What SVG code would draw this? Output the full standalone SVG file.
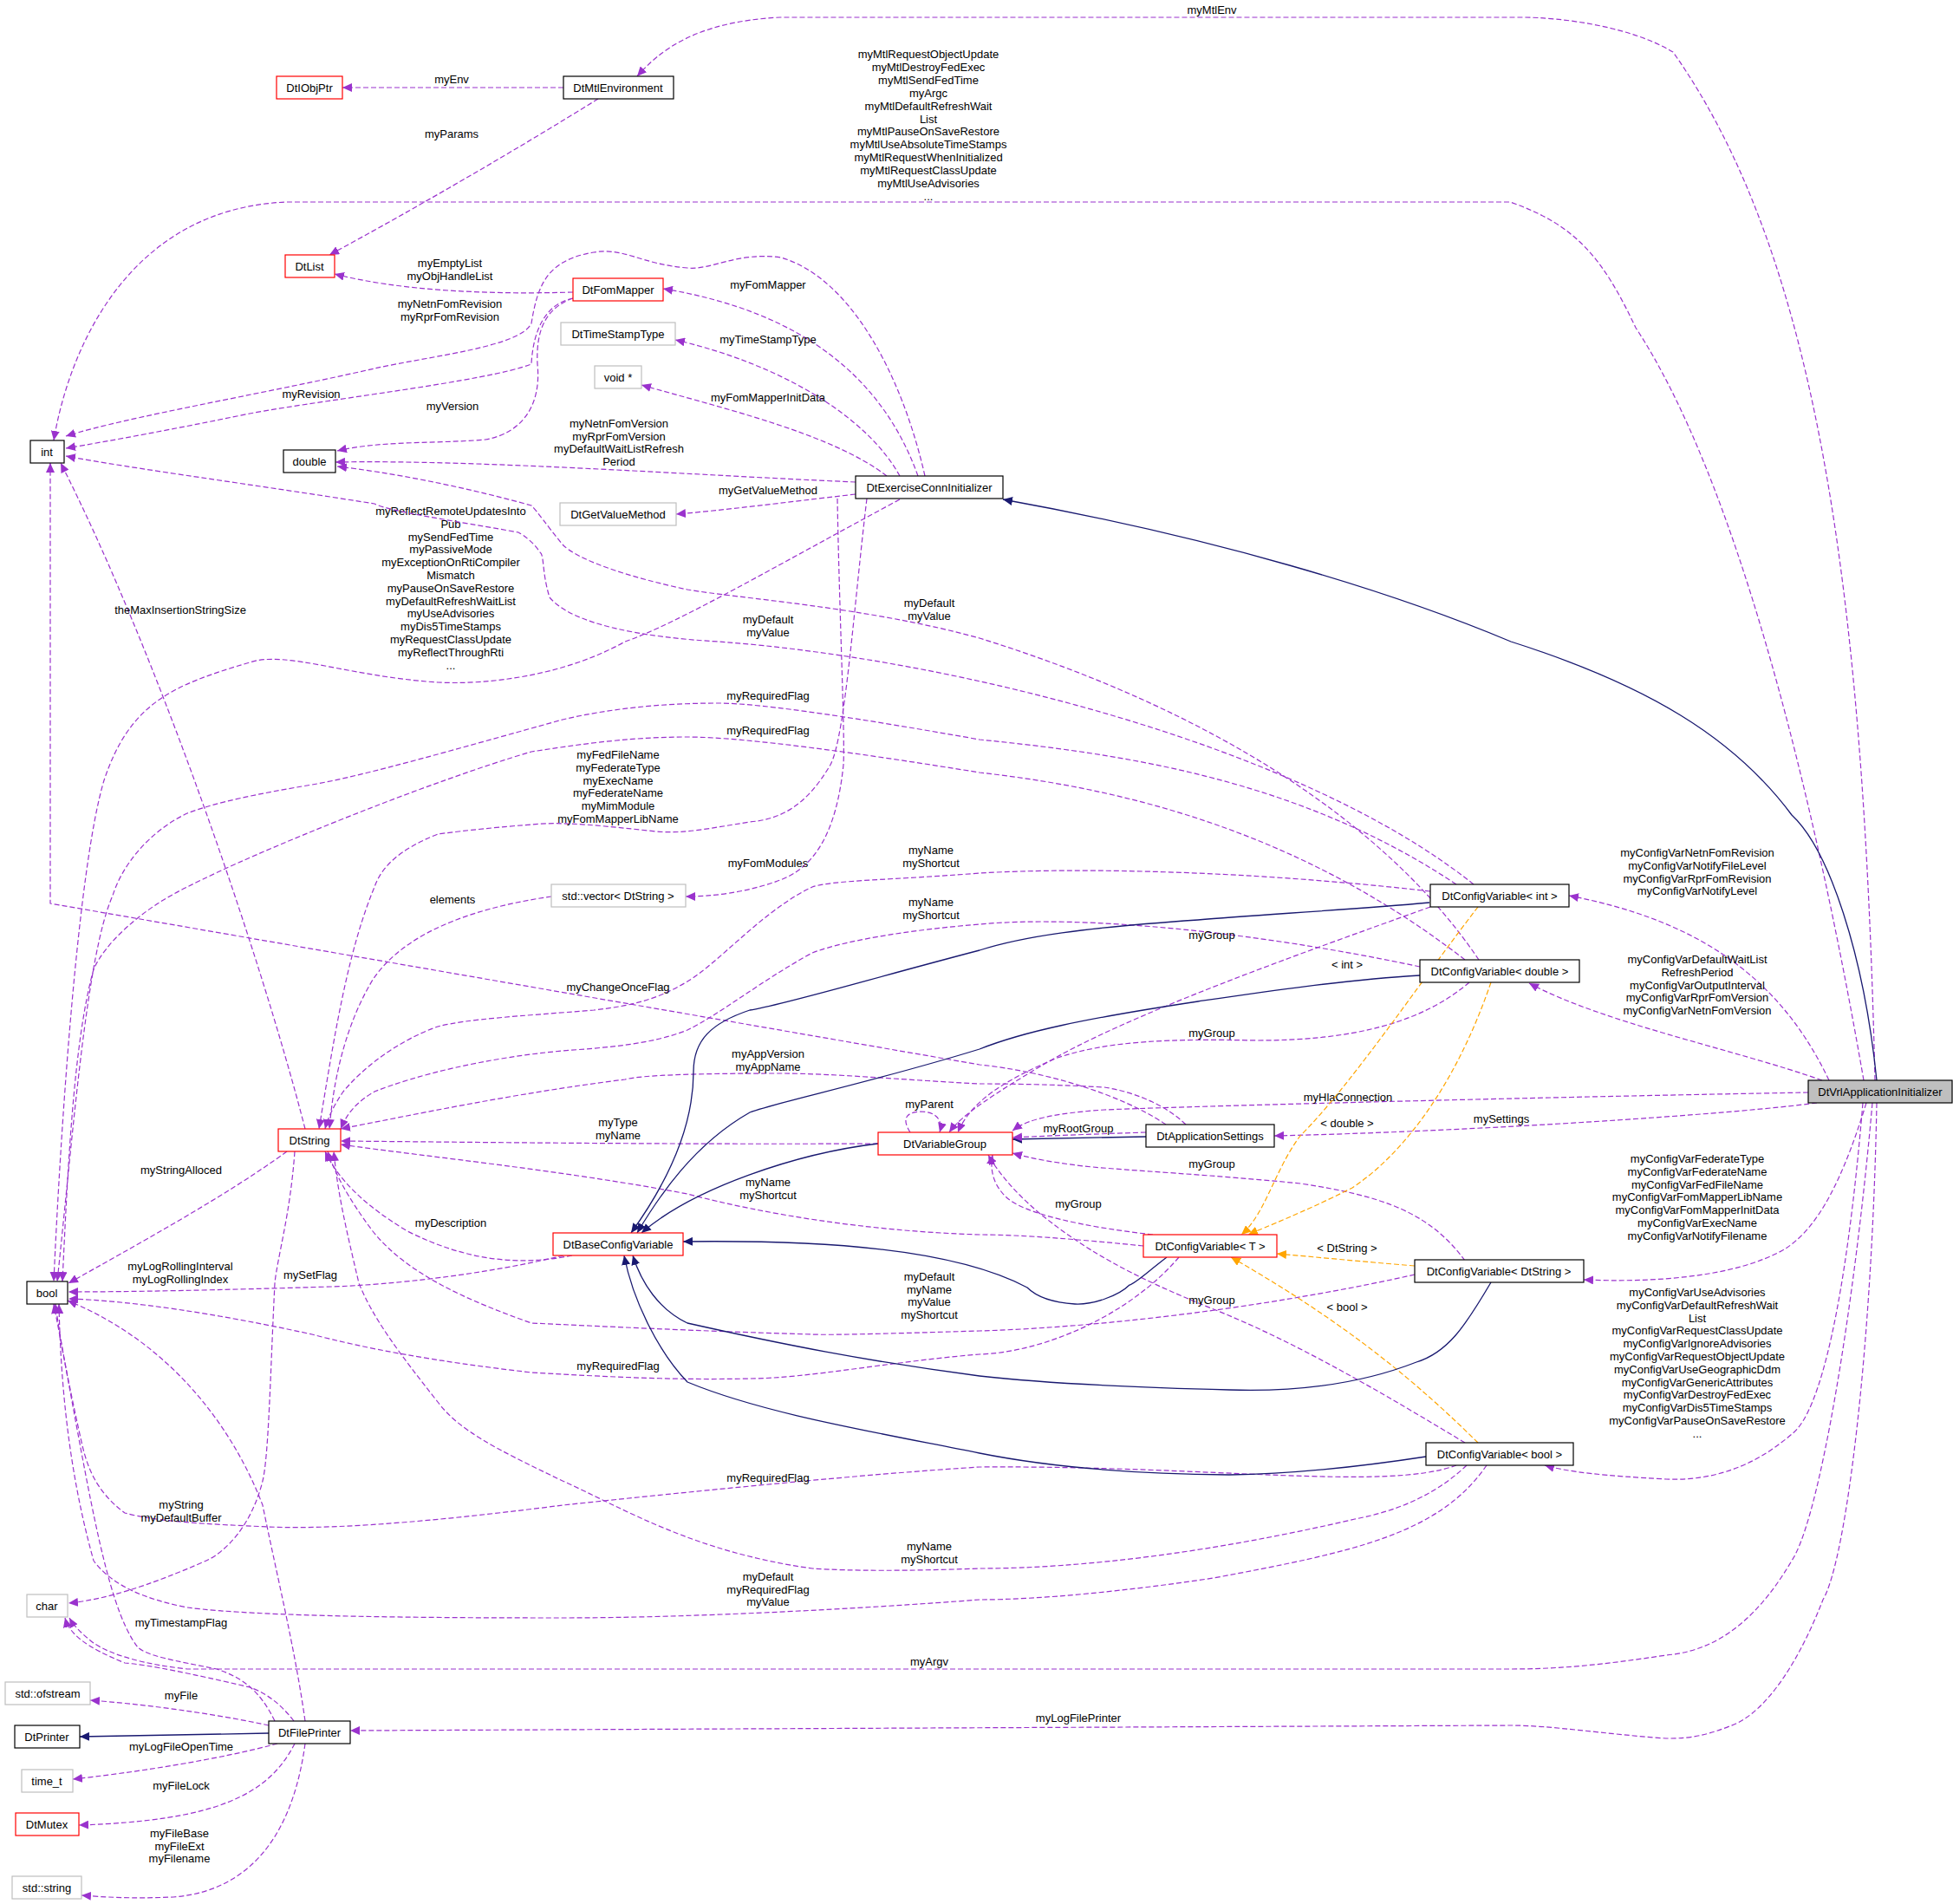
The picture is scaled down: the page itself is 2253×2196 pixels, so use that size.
<svg xmlns="http://www.w3.org/2000/svg" width="2253" height="2196" viewBox="0 0 2253 2196">
<style>
text{font-family:"Liberation Sans",Arial,sans-serif;font-size:13px;fill:#000}
.nt{text-anchor:middle}
.l{text-anchor:middle}
.b{fill:#fff;stroke:#000;stroke-width:1.2}
.r{fill:#fff;stroke:#ff0000;stroke-width:1.2}
.g{fill:#fff;stroke:#bfbfbf;stroke-width:1.2}
.e{fill:none;stroke:#9a32cd;stroke-width:1.2;stroke-dasharray:6,3;marker-end:url(#ap);stroke-linejoin:round}
.n{fill:none;stroke:#191970;stroke-width:1.3;marker-end:url(#an);stroke-linejoin:round}
.o{fill:none;stroke:#ffa500;stroke-width:1.2;stroke-dasharray:6,3;marker-end:url(#ao);stroke-linejoin:round}
</style>
<defs>
<marker id="ap" markerUnits="userSpaceOnUse" markerWidth="12" markerHeight="10" refX="11" refY="5" orient="auto"><path d="M0,0L11,5L0,10z" fill="#9a32cd"/></marker>
<marker id="an" markerUnits="userSpaceOnUse" markerWidth="12" markerHeight="10" refX="11" refY="5" orient="auto"><path d="M0,0L11,5L0,10z" fill="#191970"/></marker>
<marker id="ao" markerUnits="userSpaceOnUse" markerWidth="12" markerHeight="10" refX="11" refY="5" orient="auto"><path d="M0,0L11,5L0,10z" fill="#ffa500"/></marker>
</defs>
<rect width="2253" height="2196" fill="#fff"/>
<g id="connectors">
<path class="e" d="M2163,1246 C2150,700 2100,300 1930,60 C1880,30 1800,20 1756,20 L900,20 C800,25 760,60 735,88"/>
<text class="l" x="1398" y="16">myMtlEnv</text>
<path class="e" d="M2150,1246 C2090,900 2000,550 1887,378 C1850,300 1820,260 1742,233 L331,233 C150,240 80,400 62,508"/>
<text class="l" x="1071" y="67"><tspan x="1071">myMtlRequestObjectUpdate</tspan><tspan x="1071" dy="14.9">myMtlDestroyFedExec</tspan><tspan x="1071" dy="14.9">myMtlSendFedTime</tspan><tspan x="1071" dy="14.9">myArgc</tspan><tspan x="1071" dy="14.9">myMtlDefaultRefreshWait</tspan><tspan x="1071" dy="14.9">List</tspan><tspan x="1071" dy="14.9">myMtlPauseOnSaveRestore</tspan><tspan x="1071" dy="14.9">myMtlUseAbsoluteTimeStamps</tspan><tspan x="1071" dy="14.9">myMtlRequestWhenInitialized</tspan><tspan x="1071" dy="14.9">myMtlRequestClassUpdate</tspan><tspan x="1071" dy="14.9">myMtlUseAdvisories</tspan><tspan x="1071" dy="14.9">...</tspan></text>
<path class="e" d="M650,101 L395,101"/>
<text class="l" x="521" y="96">myEnv</text>
<path class="e" d="M690,114 C600,170 480,240 380,294"/>
<text class="l" x="521" y="159">myParams</text>
<path class="e" d="M661,337 C560,340 460,335 386,316"/>
<text class="l" x="519" y="308"><tspan x="519">myEmptyList</tspan><tspan x="519" dy="14.8">myObjHandleList</tspan></text>
<path class="e" d="M1067,549 C1040,430 980,320 901,297 C850,290 820,312 793,309 C740,305 720,285 685,291 C630,300 620,330 613,373 C600,400 500,410 432,425 C300,455 150,480 76,503"/>
<text class="l" x="519" y="355"><tspan x="519">myNetnFomRevision</tspan><tspan x="519" dy="14.8">myRprFomRevision</tspan></text>
<path class="e" d="M661,344 C630,350 615,380 613,420 C560,440 380,460 288,477 C200,495 130,508 76,517"/>
<text class="l" x="359" y="459">myRevision</text>
<path class="e" d="M661,344 C630,355 618,380 620,420 C625,470 600,500 560,507 C500,512 440,508 389,520"/>
<text class="l" x="522" y="473">myVersion</text>
<path class="e" d="M1059,549 C1020,440 930,360 765,333"/>
<text class="l" x="886" y="333">myFomMapper</text>
<path class="e" d="M1038,549 C1000,480 900,420 779,392"/>
<text class="l" x="886" y="396">myTimeStampType</text>
<path class="e" d="M1023,549 C960,500 830,470 740,444"/>
<text class="l" x="886" y="463">myFomMapperInitData</text>
<path class="e" d="M987,556 C800,548 550,530 387,533"/>
<text class="l" x="714" y="493"><tspan x="714">myNetnFomVersion</tspan><tspan x="714" dy="14.6">myRprFomVersion</tspan><tspan x="714" dy="14.6">myDefaultWaitListRefresh</tspan><tspan x="714" dy="14.6">Period</tspan></text>
<path class="e" d="M987,570 C900,580 840,588 780,593"/>
<text class="l" x="886" y="570">myGetValueMethod</text>
<path class="e" d="M1038,576 C900,650 780,720 721,740 C650,780 560,790 505,787 C400,780 330,750 288,764 C200,790 150,810 120,900 C90,1000 70,1300 62,1478"/>
<text class="l" x="520" y="594"><tspan x="520">myReflectRemoteUpdatesInto</tspan><tspan x="520" dy="14.8">Pub</tspan><tspan x="520" dy="14.8">mySendFedTime</tspan><tspan x="520" dy="14.8">myPassiveMode</tspan><tspan x="520" dy="14.8">myExceptionOnRtiCompiler</tspan><tspan x="520" dy="14.8">Mismatch</tspan><tspan x="520" dy="14.8">myPauseOnSaveRestore</tspan><tspan x="520" dy="14.8">myDefaultRefreshWaitList</tspan><tspan x="520" dy="14.8">myUseAdvisories</tspan><tspan x="520" dy="14.8">myDis5TimeStamps</tspan><tspan x="520" dy="14.8">myRequestClassUpdate</tspan><tspan x="520" dy="14.8">myReflectThroughRti</tspan><tspan x="520" dy="14.8">...</tspan></text>
<path class="e" d="M966,575 C968,700 975,850 973,882 C965,960 940,1000 900,1015 C860,1030 820,1034 791,1034"/>
<text class="l" x="886" y="1000">myFomModules</text>
<path class="e" d="M1000,575 C985,700 975,850 958,882 C930,930 900,945 865,948 C820,955 790,962 757,959 C700,953 650,947 613,951 C560,955 520,960 505,962 C460,980 440,1000 432,1023 C400,1100 385,1200 368,1302"/>
<text class="l" x="713" y="875"><tspan x="713">myFedFileName</tspan><tspan x="713" dy="14.8">myFederateType</tspan><tspan x="713" dy="14.8">myExecName</tspan><tspan x="713" dy="14.8">myFederateName</tspan><tspan x="713" dy="14.8">myMimModule</tspan><tspan x="713" dy="14.8">myFomMapperLibName</tspan></text>
<path class="e" d="M1706,1107 C1600,950 1400,820 1130,736 C1000,700 850,690 793,680 C700,660 660,640 649,628 C630,605 620,590 613,583 C530,560 450,545 389,538"/>
<text class="l" x="886" y="719"><tspan x="886">myDefault</tspan><tspan x="886" dy="14.6">myValue</tspan></text>
<path class="e" d="M1700,1020 C1500,860 1100,760 829,740 C740,735 660,720 634,689 C625,660 628,640 623,637 C615,625 605,618 598,614 C520,600 450,590 432,581 C300,560 150,540 76,526"/>
<text class="l" x="1072" y="700"><tspan x="1072">myDefault</tspan><tspan x="1072" dy="14.6">myValue</tspan></text>
<path class="e" d="M1680,1020 C1500,900 1300,870 1130,853 C1000,830 880,811 829,811 C760,811 700,818 649,830 C540,860 420,895 360,905 C300,915 250,925 216,938 C170,960 140,1000 130,1033 C100,1100 85,1300 66,1478"/>
<text class="l" x="886" y="807">myRequiredFlag</text>
<path class="e" d="M1690,1107 C1500,960 1300,910 1130,891 C1000,870 860,850 793,850 C720,850 660,860 613,867 C500,900 300,980 216,1023 C160,1050 120,1090 108,1118 C85,1200 78,1350 72,1478"/>
<text class="l" x="886" y="847">myRequiredFlag</text>
<path class="e" d="M1650,1028 C1450,1005 1250,1000 1130,1007 C1030,1015 960,1015 937,1023 C880,1050 830,1110 793,1132 C760,1152 730,1160 685,1165 C600,1172 540,1175 505,1184 C460,1200 420,1230 396,1259 C385,1275 378,1290 375,1302"/>
<text class="l" x="1074" y="985"><tspan x="1074">myName</tspan><tspan x="1074" dy="14.6">myShortcut</tspan></text>
<path class="e" d="M1638,1115 C1450,1075 1250,1055 1130,1066 C1020,1075 960,1090 937,1099 C880,1130 830,1170 793,1188 C750,1205 700,1208 649,1212 C560,1220 480,1240 432,1259 C410,1272 400,1285 393,1302"/>
<text class="l" x="1074" y="1045"><tspan x="1074">myName</tspan><tspan x="1074" dy="14.6">myShortcut</tspan></text>
<path class="e" d="M1345,1297 C1290,1260 1200,1235 1130,1228 L58,1042 L58,534"/>
<text class="l" x="713" y="1143">myChangeOnceFlag</text>
<path class="e" d="M1368,1297 C1340,1270 1300,1258 1274,1254 C1200,1250 1150,1250 1130,1250 C1050,1246 960,1238 901,1238 C800,1238 740,1240 721,1245 C600,1260 480,1285 393,1302"/>
<text class="l" x="886" y="1220"><tspan x="886">myAppVersion</tspan><tspan x="886" dy="14.6">myAppName</tspan></text>
<path class="e" d="M1013,1319 C800,1320 600,1318 393,1316"/>
<text class="l" x="713" y="1299"><tspan x="713">myType</tspan><tspan x="713" dy="14.6">myName</tspan></text>
<path class="e" d="M1050,1306 C1040,1290 1045,1283 1062,1282 C1080,1282 1088,1292 1084,1306"/>
<text class="l" x="1072" y="1278">myParent</text>
<path class="e" d="M660,1448 C600,1460 540,1455 470,1420 C420,1390 390,1360 375,1328"/>
<text class="l" x="520" y="1415">myDescription</text>
<path class="e" d="M331,1328 C260,1380 150,1440 79,1480"/>
<text class="l" x="209" y="1354">myStringAlloced</text>
<path class="e" d="M650,1448 C560,1470 450,1482 382,1484 C250,1488 150,1490 79,1490"/>
<text class="l" x="358" y="1475">mySetFlag</text>
<path class="e" d="M1360,1450 C1300,1520 1200,1560 1130,1562 C1030,1570 930,1590 865,1590 C780,1592 700,1588 613,1583 C500,1570 420,1555 360,1539 C250,1515 150,1500 79,1498"/>
<text class="l" x="713" y="1580">myRequiredFlag</text>
<path class="e" d="M1632,1470 C1500,1500 1300,1530 1130,1535 C1030,1538 960,1540 937,1539 C800,1535 700,1530 613,1526 C540,1500 470,1470 430,1420 C400,1380 385,1350 378,1328"/>
<text class="l" x="1072" y="1477"><tspan x="1072">myDefault</tspan><tspan x="1072" dy="14.6">myName</tspan><tspan x="1072" dy="14.6">myValue</tspan><tspan x="1072" dy="14.6">myShortcut</tspan></text>
<path class="e" d="M1680,1690 C1600,1720 1400,1690 1130,1692 C1000,1700 800,1720 649,1736 C540,1750 400,1765 310,1761 C240,1758 180,1755 144,1745 C110,1720 100,1690 94,1663 C80,1600 70,1550 64,1504"/>
<text class="l" x="886" y="1709">myRequiredFlag</text>
<path class="e" d="M1715,1690 C1660,1770 1560,1790 1400,1820 C1300,1835 1200,1845 1130,1845 C1000,1855 800,1866 649,1866 C500,1866 300,1865 216,1854 C170,1845 130,1830 108,1800 C80,1700 70,1600 68,1504"/>
<text class="l" x="886" y="1823"><tspan x="886">myDefault</tspan><tspan x="886" dy="14.6">myRequiredFlag</tspan><tspan x="886" dy="14.6">myValue</tspan></text>
<path class="e" d="M1692,1690 C1650,1730 1600,1745 1563,1752 C1400,1790 1250,1809 1130,1809 C1050,1812 980,1812 937,1809 C800,1790 720,1740 649,1708 C570,1670 530,1650 505,1617 C460,1560 430,1520 414,1480 C400,1420 390,1380 385,1328"/>
<text class="l" x="1072" y="1788"><tspan x="1072">myName</tspan><tspan x="1072" dy="14.6">myShortcut</tspan></text>
<path class="e" d="M1319,1437 C1250,1430 1180,1424 1130,1424 C1000,1420 880,1400 793,1377 C650,1350 500,1335 393,1320"/>
<text class="l" x="886" y="1368"><tspan x="886">myName</tspan><tspan x="886" dy="14.6">myShortcut</tspan></text>
<path class="e" d="M1330,1424 C1250,1415 1180,1400 1160,1380 C1145,1365 1142,1348 1145,1332"/>
<text class="l" x="1244" y="1393">myGroup</text>
<path class="e" d="M1650,1046 C1500,1100 1300,1170 1200,1230 C1150,1260 1110,1285 1095,1306"/>
<text class="l" x="1398" y="1083">myGroup</text>
<path class="e" d="M1695,1133 C1640,1180 1560,1200 1450,1200 C1350,1198 1280,1200 1220,1220 C1160,1245 1120,1270 1105,1306"/>
<text class="l" x="1398" y="1196">myGroup</text>
<path class="e" d="M1690,1454 C1650,1400 1600,1380 1500,1365 C1400,1355 1300,1350 1250,1345 C1210,1340 1190,1336 1168,1330"/>
<text class="l" x="1398" y="1347">myGroup</text>
<path class="e" d="M1690,1664 C1600,1610 1500,1550 1400,1510 C1300,1470 1250,1440 1200,1400 C1170,1375 1150,1350 1140,1332"/>
<text class="l" x="1398" y="1504">myGroup</text>
<path class="e" d="M340,1328 C335,1400 320,1450 317,1480 C312,1580 310,1680 303,1708 C290,1760 260,1790 238,1800 C170,1830 120,1845 79,1849"/>
<text class="l" x="209" y="1740"><tspan x="209">myString</tspan><tspan x="209" dy="14.6">myDefaultBuffer</tspan></text>
<path class="e" d="M352,1302 C300,1100 180,750 70,534"/>
<text class="l" x="208" y="708">theMaxInsertionStringSize</text>
<path class="e" d="M636,1034 C560,1045 470,1070 430,1130 C400,1180 385,1240 380,1302"/>
<text class="l" x="522" y="1042">elements</text>
<path class="e" d="M352,1985 C340,1900 320,1820 303,1736 C270,1650 200,1550 78,1500"/>
<text class="l" x="208" y="1465"><tspan x="208">myLogRollingInterval</tspan><tspan x="208" dy="14.6">myLogRollingIndex</tspan></text>
<path class="e" d="M339,1985 C320,1960 300,1950 288,1946 C220,1930 170,1920 144,1918 C100,1900 80,1885 75,1866"/>
<path class="e" d="M317,1985 C300,1950 280,1935 250,1925 C200,1915 170,1910 159,1900 C120,1850 100,1700 62,1504"/>
<text class="l" x="209" y="1876">myTimestampFlag</text>
<path class="e" d="M2160,1272 C2140,1500 2100,1750 2067,1800 C2020,1880 1970,1905 1922,1909 C1850,1920 1800,1925 1742,1925 L216,1925 C170,1920 130,1910 108,1895 C95,1885 85,1875 80,1866"/>
<text class="l" x="1072" y="1921">myArgv</text>
<path class="e" d="M2165,1272 C2160,1550 2130,1800 2103,1845 C2070,1930 2030,1980 1995,1991 C1960,2005 1940,2005 1922,2005 C1850,2000 1790,1990 1742,1990 L404,1996"/>
<text class="l" x="1244" y="1986">myLogFilePrinter</text>
<path class="e" d="M310,1990 C240,1975 160,1965 104,1961"/>
<text class="l" x="209" y="1960">myFile</text>
<path class="e" d="M320,2011 C250,2030 150,2045 84,2052"/>
<text class="l" x="209" y="2019">myLogFileOpenTime</text>
<path class="e" d="M340,2011 C310,2070 250,2100 91,2105"/>
<text class="l" x="209" y="2064">myFileLock</text>
<path class="e" d="M352,2011 C340,2100 300,2180 200,2188 C150,2190 120,2188 94,2186"/>
<text class="l" x="207" y="2119"><tspan x="207">myFileBase</tspan><tspan x="207" dy="14.6">myFileExt</tspan><tspan x="207" dy="14.6">myFilename</tspan></text>
<path class="n" d="M310,1999 C230,2000 150,2002 92,2003"/>
<path class="e" d="M2110,1246 C2050,1120 1950,1060 1810,1033"/>
<text class="l" x="1958" y="988"><tspan x="1958">myConfigVarNetnFomRevision</tspan><tspan x="1958" dy="14.8">myConfigVarNotifyFileLevel</tspan><tspan x="1958" dy="14.8">myConfigVarRprFomRevision</tspan><tspan x="1958" dy="14.8">myConfigVarNotifyLevel</tspan></text>
<path class="e" d="M2102,1246 C2000,1210 1850,1180 1764,1134"/>
<text class="l" x="1958" y="1111"><tspan x="1958">myConfigVarDefaultWaitList</tspan><tspan x="1958" dy="14.8">RefreshPeriod</tspan><tspan x="1958" dy="14.8">myConfigVarOutputInterval</tspan><tspan x="1958" dy="14.8">myConfigVarRprFomVersion</tspan><tspan x="1958" dy="14.8">myConfigVarNetnFomVersion</tspan></text>
<path class="e" d="M2086,1260 C1800,1265 1400,1275 1274,1280 C1200,1285 1180,1295 1168,1304"/>
<text class="l" x="1555" y="1270">myHlaConnection</text>
<path class="e" d="M2096,1272 C2000,1285 1700,1305 1470,1310"/>
<text class="l" x="1732" y="1295">mySettings</text>
<path class="e" d="M2153,1272 C2120,1380 2090,1420 2060,1440 C2000,1475 1900,1479 1827,1476"/>
<text class="l" x="1958" y="1341"><tspan x="1958">myConfigVarFederateType</tspan><tspan x="1958" dy="14.8">myConfigVarFederateName</tspan><tspan x="1958" dy="14.8">myConfigVarFedFileName</tspan><tspan x="1958" dy="14.8">myConfigVarFomMapperLibName</tspan><tspan x="1958" dy="14.8">myConfigVarFomMapperInitData</tspan><tspan x="1958" dy="14.8">myConfigVarExecName</tspan><tspan x="1958" dy="14.8">myConfigVarNotifyFilename</tspan></text>
<path class="e" d="M2149,1272 C2130,1500 2100,1630 2067,1654 C2020,1695 1970,1708 1922,1706 C1850,1702 1810,1698 1782,1690"/>
<text class="l" x="1958" y="1495"><tspan x="1958">myConfigVarUseAdvisories</tspan><tspan x="1958" dy="14.8">myConfigVarDefaultRefreshWait</tspan><tspan x="1958" dy="14.8">List</tspan><tspan x="1958" dy="14.8">myConfigVarRequestClassUpdate</tspan><tspan x="1958" dy="14.8">myConfigVarIgnoreAdvisories</tspan><tspan x="1958" dy="14.8">myConfigVarRequestObjectUpdate</tspan><tspan x="1958" dy="14.8">myConfigVarUseGeographicDdm</tspan><tspan x="1958" dy="14.8">myConfigVarGenericAttributes</tspan><tspan x="1958" dy="14.8">myConfigVarDestroyFedExec</tspan><tspan x="1958" dy="14.8">myConfigVarDis5TimeStamps</tspan><tspan x="1958" dy="14.8">myConfigVarPauseOnSaveRestore</tspan><tspan x="1958" dy="14.8">...</tspan></text>
<path class="n" d="M2165,1246 C2150,1100 2110,980 2067,940 C2000,850 1900,790 1743,740 C1600,680 1400,620 1157,576"/>
<path class="o" d="M1705,1046 C1640,1130 1560,1250 1500,1310 C1470,1350 1460,1400 1432,1424"/>
<text class="l" x="1554" y="1117">&lt; int &gt;</text>
<path class="o" d="M1720,1133 C1680,1250 1620,1330 1560,1370 C1500,1400 1460,1415 1440,1424"/>
<text class="l" x="1554" y="1300">&lt; double &gt;</text>
<path class="o" d="M1632,1460 C1570,1455 1520,1450 1473,1446"/>
<text class="l" x="1554" y="1444">&lt; DtString &gt;</text>
<path class="o" d="M1705,1664 C1640,1600 1560,1530 1420,1450"/>
<text class="l" x="1554" y="1512">&lt; bool &gt;</text>
<path class="n" d="M1013,1319 C920,1330 800,1370 740,1422"/>
<path class="n" d="M1649,1041 C1550,1050 1450,1055 1382,1061 C1250,1070 1180,1080 1130,1096 C1000,1130 900,1160 865,1165 C820,1180 800,1200 800,1236 C800,1290 780,1350 728,1422"/>
<path class="n" d="M1638,1125 C1550,1130 1450,1145 1382,1155 C1250,1175 1180,1190 1130,1210 C1000,1250 900,1270 865,1283 C800,1320 760,1380 735,1422"/>
<path class="n" d="M1346,1450 C1320,1470 1310,1480 1303,1482 C1290,1495 1260,1505 1240,1504 C1210,1502 1195,1495 1185,1485 C1100,1440 950,1430 788,1432"/>
<path class="n" d="M1720,1479 C1690,1530 1670,1560 1634,1571 C1560,1600 1480,1605 1418,1603 C1300,1600 1200,1595 1130,1587 C1000,1570 900,1550 793,1526 C760,1510 740,1480 730,1448"/>
<path class="n" d="M1645,1680 C1580,1690 1500,1700 1418,1701 C1300,1700 1200,1690 1130,1676 C1000,1650 880,1630 793,1594 C760,1560 730,1500 720,1448"/>
<path class="n" d="M1322,1311 C1260,1312 1210,1313 1168,1314"/>
<path class="e" d="M1322,1306 C1260,1308 1210,1310 1168,1312"/>
<text class="l" x="1244" y="1306">myRootGroup</text>
</g>
<g id="n_vrl"><rect class="b" x="2086" y="1246" width="166" height="26" style="fill:#bfbfbf"/><text class="nt" x="2169" y="1264">DtVrlApplicationInitializer</text></g>
<g id="n_exconn"><rect class="b" x="987" y="549" width="170" height="26"/><text class="nt" x="1072" y="567">DtExerciseConnInitializer</text></g>
<g id="n_mtlenv"><rect class="b" x="650" y="88" width="127" height="26"/><text class="nt" x="713" y="106">DtMtlEnvironment</text></g>
<g id="n_objptr"><rect class="r" x="319" y="88" width="76" height="26"/><text class="nt" x="357" y="106">DtIObjPtr</text></g>
<g id="n_list"><rect class="r" x="329" y="294" width="57" height="26"/><text class="nt" x="357" y="312">DtList</text></g>
<g id="n_fommapper"><rect class="r" x="661" y="321" width="104" height="26"/><text class="nt" x="713" y="339">DtFomMapper</text></g>
<g id="n_timestamp"><rect class="g" x="647" y="372" width="132" height="26"/><text class="nt" x="713" y="390">DtTimeStampType</text></g>
<g id="n_void"><rect class="g" x="686" y="422" width="54" height="26"/><text class="nt" x="713" y="440">void *</text></g>
<g id="n_int"><rect class="b" x="35" y="508" width="39" height="26"/><text class="nt" x="54" y="526">int</text></g>
<g id="n_double"><rect class="b" x="327" y="519" width="60" height="26"/><text class="nt" x="357" y="537">double</text></g>
<g id="n_getvalue"><rect class="g" x="646" y="580" width="134" height="26"/><text class="nt" x="713" y="598">DtGetValueMethod</text></g>
<g id="n_vector"><rect class="g" x="636" y="1020" width="155" height="26"/><text class="nt" x="713" y="1038">std::vector&lt; DtString &gt;</text></g>
<g id="n_cvint"><rect class="b" x="1650" y="1020" width="160" height="26"/><text class="nt" x="1730" y="1038">DtConfigVariable&lt; int &gt;</text></g>
<g id="n_cvdouble"><rect class="b" x="1638" y="1107" width="184" height="26"/><text class="nt" x="1730" y="1125">DtConfigVariable&lt; double &gt;</text></g>
<g id="n_dtstring"><rect class="r" x="321" y="1302" width="72" height="26"/><text class="nt" x="357" y="1320">DtString</text></g>
<g id="n_vargroup"><rect class="r" x="1013" y="1306" width="155" height="26"/><text class="nt" x="1090" y="1324">DtVariableGroup</text></g>
<g id="n_appsettings"><rect class="b" x="1322" y="1297" width="148" height="26"/><text class="nt" x="1396" y="1315">DtApplicationSettings</text></g>
<g id="n_baseconfig"><rect class="r" x="638" y="1422" width="150" height="26"/><text class="nt" x="713" y="1440">DtBaseConfigVariable</text></g>
<g id="n_cvt"><rect class="r" x="1319" y="1424" width="154" height="26"/><text class="nt" x="1396" y="1442">DtConfigVariable&lt; T &gt;</text></g>
<g id="n_cvstring"><rect class="b" x="1632" y="1453" width="195" height="26"/><text class="nt" x="1729" y="1471">DtConfigVariable&lt; DtString &gt;</text></g>
<g id="n_cvbool"><rect class="b" x="1645" y="1664" width="170" height="26"/><text class="nt" x="1730" y="1682">DtConfigVariable&lt; bool &gt;</text></g>
<g id="n_bool"><rect class="b" x="31" y="1478" width="47" height="26"/><text class="nt" x="54" y="1496">bool</text></g>
<g id="n_char"><rect class="g" x="31" y="1839" width="47" height="26"/><text class="nt" x="54" y="1857">char</text></g>
<g id="n_ofstream"><rect class="g" x="6" y="1940" width="98" height="26"/><text class="nt" x="55" y="1958">std::ofstream</text></g>
<g id="n_printer"><rect class="b" x="17" y="1990" width="75" height="26"/><text class="nt" x="54" y="2008">DtPrinter</text></g>
<g id="n_fileprinter"><rect class="b" x="310" y="1985" width="94" height="26"/><text class="nt" x="357" y="2003">DtFilePrinter</text></g>
<g id="n_timet"><rect class="g" x="25" y="2041" width="59" height="26"/><text class="nt" x="54" y="2059">time_t</text></g>
<g id="n_mutex"><rect class="r" x="18" y="2091" width="73" height="26"/><text class="nt" x="54" y="2109">DtMutex</text></g>
<g id="n_stdstring"><rect class="g" x="14" y="2164" width="80" height="26"/><text class="nt" x="54" y="2182">std::string</text></g>
</svg>
